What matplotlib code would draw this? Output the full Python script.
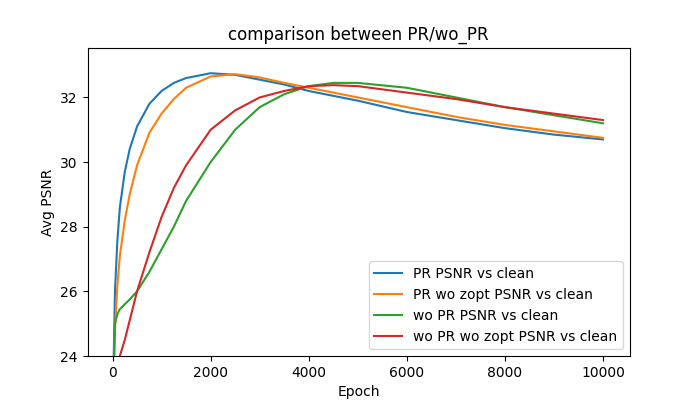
import matplotlib
matplotlib.use("Agg")
import matplotlib.pyplot as plt

epochs = [0, 50, 100, 150, 250, 350, 500, 750, 1000, 1250, 1500, 2000, 2500, 3000, 3500, 4000,
          4500, 5000, 6000, 7000, 8000, 9000, 10000]
pr = [22.0, 26.0, 27.6, 28.6, 29.7, 30.4, 31.1, 31.8, 32.2, 32.45, 32.6, 32.75, 32.7, 32.55, 32.4, 32.2,
      32.05, 31.9, 31.55, 31.3, 31.05, 30.85, 30.7]
pr_wo_zopt = [22.0, 24.8, 26.2, 27.1, 28.2, 29.0, 29.9, 30.9, 31.5, 31.95, 32.3, 32.65, 32.72, 32.62, 32.45, 32.3,
              32.15, 32.0, 31.7, 31.4, 31.15, 30.95, 30.75]
wo_pr = [22.0, 25.0, 25.3, 25.45, 25.6, 25.75, 26.0, 26.6, 27.3, 28.0, 28.8, 30.0, 31.0, 31.7, 32.1, 32.35,
         32.45, 32.45, 32.3, 32.0, 31.7, 31.45, 31.2]
wo_pr_wo_zopt = [21.5, 22.8, 23.6, 24.0, 24.5, 25.1, 26.0, 27.2, 28.3, 29.2, 29.9, 31.0, 31.6, 32.0, 32.2, 32.35,
                 32.38, 32.35, 32.15, 31.95, 31.7, 31.5, 31.3]

fig, ax = plt.subplots(figsize=(7, 4), dpi=100)
ax.plot(epochs, pr, label="PR PSNR vs clean")
ax.plot(epochs, pr_wo_zopt, label="PR wo zopt PSNR vs clean")
ax.plot(epochs, wo_pr, label="wo PR PSNR vs clean")
ax.plot(epochs, wo_pr_wo_zopt, label="wo PR wo zopt PSNR vs clean")
ax.set_xlim(-510, 10550)
ax.set_ylim(24, 33.53)
ax.set_xlabel("Epoch")
ax.set_ylabel("Avg PSNR")
ax.set_title("comparison between PR/wo_PR")
ax.legend(loc="lower right")
fig.savefig("out.png")
